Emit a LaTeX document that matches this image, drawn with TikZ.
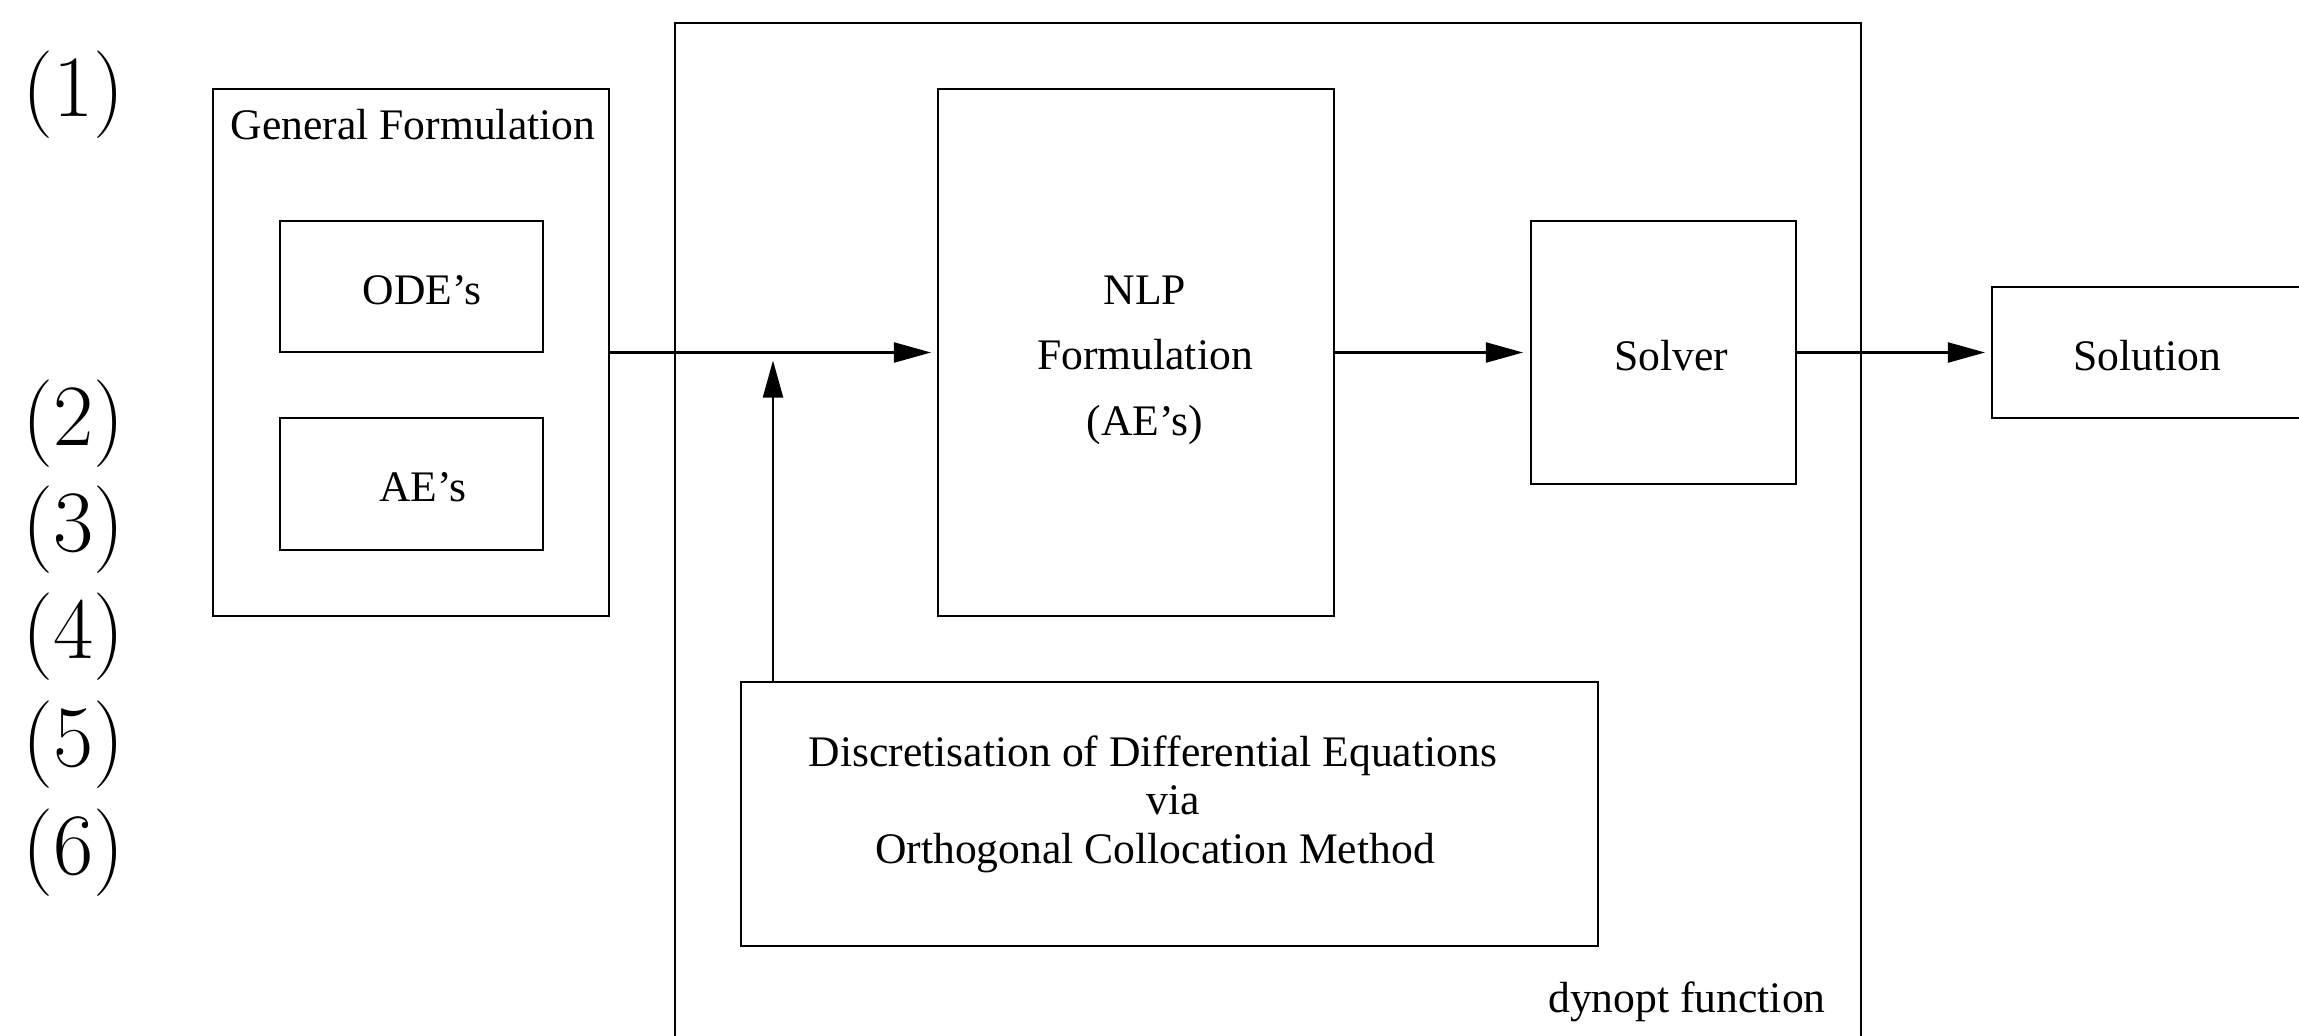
\documentclass[tikz,border=0pt]{standalone}
\usepackage{fontspec}
\setmainfont{Liberation Serif}
\usetikzlibrary{arrows.meta,fit}
\begin{document}
\begin{tikzpicture}[x=0.01cm,y=-0.01cm,
  box/.style={draw, line width=0.6pt, inner sep=0pt, outer sep=0pt},
  txt/.style={font=\fontsize{12.4}{14}\selectfont, inner sep=0pt, anchor=base},
  num/.style={font=\fontsize{23.7}{28}\selectfont, inner sep=0pt},
  arr/.style={-{Triangle[length=0.37cm,width=0.2cm]}, line width=0.6pt}]
\useasboundingbox (0,0) rectangle (2299,1036);
\clip (0,0) rectangle (2299,1036);

% equation numbers
\node[num] (n1) at (74,95)  {$(1)$};
\node[num] (n2) at (74,424) {$(2)$};
\node[num] (n3) at (74,530) {$(3)$};
\node[num] (n4) at (74,637) {$(4)$};
\node[num] (n5) at (74,745) {$(5)$};
\node[num] (n6) at (74,853) {$(6)$};

% boxes
\node[box, fit={(213,89) (609,616)}] (gf) {};
\node[box, fit={(280,221) (543,352)}] (ode) {};
\node[box, fit={(280,418) (543,550)}] (ae) {};
\node[box, fit={(675,23) (1861,1080)}] (dyn) {};
\node[box, fit={(938,89) (1334,616)}] (nlp) {};
\node[box, fit={(1531,221) (1796,484)}] (solver) {};
\node[box, fit={(1992,287) (2340,418)}] (sol) {};
\node[box, fit={(741,682) (1598,946)}] (disc) {};

% texts
\node[txt] (tgf) at (413,139) {General Formulation};
\node[txt] (tode) at (422,304) {ODE’s};
\node[txt] (tae) at (423,501) {AE’s};
\node[txt] (tnlp1) at (1145,304) {NLP};
\node[txt] (tnlp2) at (1145,369) {Formulation};
\node[txt] (tnlp3) at (1145,435) {(AE’s)};
\node[txt] (tsolver) at (1671,370) {Solver};
\node[txt] (tsol) at (2147,370) {Solution};
\node[txt] (td1) at (1153,766) {Discretisation of Differential Equations};
\node[txt] (td2) at (1173,814) {via};
\node[txt] (td3) at (1155,863) {Orthogonal Collocation Method};
\node[txt] (tdyn) at (1687,1012) {dynopt function};

% connectors
\coordinate (j) at (773,352.5);
\draw[arr, shorten >=0.07cm] (gf.east) -- (nlp.west);
\draw[arr, shorten >=0.08cm] (nlp.east) -- (solver.west);
\draw[arr, shorten >=0.07cm] (solver.east) -- (sol.west);
\draw[arr, shorten >=0.08cm] (disc.north -| j) -- (j);
\end{tikzpicture}
\end{document}
